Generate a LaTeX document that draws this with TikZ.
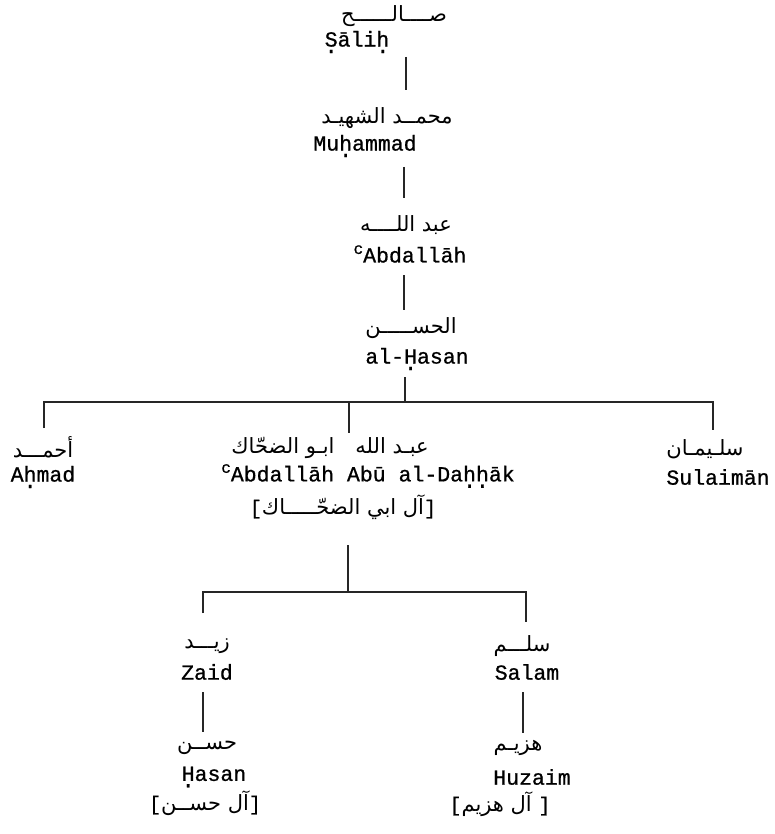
\documentclass[tikz,border=0pt]{standalone}
\usepackage{fontspec}
\TeXXeTstate=1
\newfontfamily\arfont[Script=Arabic]{DejaVu Sans}
\newfontfamily\ltmono[FakeBold=0.8]{Liberation Mono}
\newcommand\db[1]{\ooalign{#1\cr\raisebox{-0.3em}{.}\cr}}
\newcommand\ayn{\raisebox{0.40em}{\fontsize{16}{16}\selectfont c}}
\newcommand\brk[1]{{\ltmono\fontsize{20}{20}\selectfont #1}}
\begin{document}
\begin{tikzpicture}[x=1pt,y=-1pt,
  ar/.style={font=\arfont\fontsize{21}{24}\selectfont, inner sep=0pt},
  lt/.style={font=\ltmono\fontsize{21.5}{24}\selectfont, inner sep=0pt},
  link/.style={line width=1.4pt, black!85}]
\useasboundingbox[fill=white] (0,0) rectangle (774,834);

% generation 1
\node[ar] (aSalih) at (394,16) {\beginR صــــالــــــح\endR};
\node[lt] (lSalih) at (357,42) {\db{S}\=ali\db{h}};
% generation 2
\node[ar] (aMuh) at (387,118) {\beginR محمــد الشهيـد\endR};
\node[lt] (lMuh) at (365,146) {Mu\db{h}ammad};
% generation 3
\node[ar] (aAbd) at (406,225) {\beginR عبد اللــــه\endR};
\node[lt] (lAbd) at (410,254) {\ayn Abdall\=ah};
% generation 4
\node[ar] (aHasan) at (411,328) {\beginR الحســـــن\endR};
\node[lt] (lHasan) at (417,359) {al-\db{H}asan};
% generation 5
\node[ar] (aAhmad) at (43,447) {\beginR أحمـــد\endR};
\node[lt] (lAhmad) at (43,477) {A\db{h}mad};
\node[ar] (aDah) at (330,448) {\beginR عبـد الله\quad ابـو الضحّاك\endR};
\node[lt] (lDah) at (368,476) {\ayn Abdall\=ah Ab\=u al-Da\db{h}\db{h}\=ak};
\node[ar] (bDah) at (343,507) {\brk{[}\beginR آل ابي الضحّـــــاك\endR\brk{]}};
\node[ar] (aSul) at (705,449) {\beginR سلـيمـان\endR};
\node[lt] (lSul) at (718,477) {Sulaim\=an};
% generation 6
\node[ar] (aZaid) at (207,646) {\beginR زيـــد\endR};
\node[lt] (lZaid) at (207,672) {Zaid};
\node[ar] (aSalam) at (522,646) {\beginR سلـــم\endR};
\node[lt] (lSalam) at (527,672) {Salam};
% generation 7
\node[ar] (aHs) at (207,748) {\beginR حســن\endR};
\node[lt] (lHs) at (214,777) {\db{H}asan};
\node[ar] (bHs) at (205,803) {\brk{[}\beginR آل حســن\endR\brk{]}};
\node[ar] (aHuz) at (518,748) {\beginR هزيـم\endR};
\node[lt] (lHuz) at (532,777) {Huzaim};
\node[ar] (bHuz) at (500,804) {\brk{[}\beginR آل هزيم\endR\ \brk{]}};

% junction coordinates
\coordinate (t1) at (406,57);  \coordinate (b1) at (406,90);
\coordinate (t2) at (404,167); \coordinate (b2) at (404,198);
\coordinate (t3) at (404,275); \coordinate (b3) at (404,310);
\coordinate (t4) at (405,377); \coordinate (j4) at (405,402);
\coordinate (hL) at (44,402);  \coordinate (hR) at (713,402);
\coordinate (dAhmad) at (44,428);
\coordinate (hM) at (349,402); \coordinate (dDah) at (349,433);
\coordinate (dSul) at (713,430);
\coordinate (t5) at (348,545); \coordinate (j5) at (348,592);
\coordinate (gL) at (203,592); \coordinate (gR) at (526,592);
\coordinate (dZaid) at (203,613); \coordinate (dSalam) at (526,622);
\coordinate (t6) at (203,692); \coordinate (b6) at (203,732);
\coordinate (t7) at (523,692); \coordinate (b7) at (523,733);

\draw[link] (t1) -- (b1);
\draw[link] (t2) -- (b2);
\draw[link] (t3) -- (b3);
\draw[link] (t4) -- (j4);
\draw[link] (dAhmad) -- (hL) -- (hR) -- (dSul);
\draw[link] (hM) -- (dDah);
\draw[link] (t5) -- (j5);
\draw[link] (dZaid) -- (gL) -- (gR) -- (dSalam);
\draw[link] (t6) -- (b6);
\draw[link] (t7) -- (b7);
\end{tikzpicture}
\end{document}
